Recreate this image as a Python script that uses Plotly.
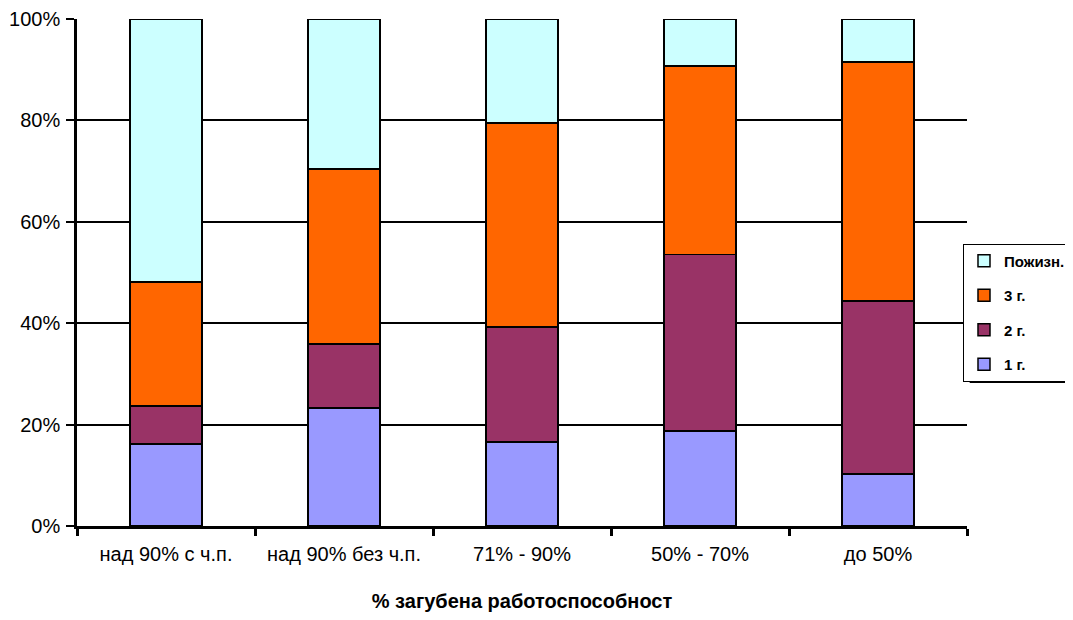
import plotly.graph_objects as go

categories = ["над 90% с ч.п.", "над 90% без ч.п.", "71% - 90%", "50% - 70%", "до 50%"]
series_names = ["1 г.", "2 г.", "3 г.", "Пожизн."]
v_1g = [16.2, 23.3, 16.6, 18.7, 10.3]
v_2g = [7.5, 12.6, 22.7, 34.9, 34.1]
v_3g = [24.4, 34.5, 40.2, 37.1, 47.1]
v_life = [51.9, 29.6, 20.5, 9.3, 8.5]
colors = ["#9999FF", "#993366", "#FF6600", "#CCFFFF"]
y_ticks = [0, 20, 40, 60, 80, 100]
y_ticktext = ["0%", "20%", "40%", "60%", "80%", "100%"]

W, H = 1065, 604  # page body has an 8px margin

fig = go.Figure()
for i, (name, vals) in enumerate(zip(series_names, [v_1g, v_2g, v_3g, v_life])):
    fig.add_trace(go.Bar(
        x=categories, y=vals, name="<b>" + name + "</b>", legendgroup=name,
        legendrank=10 - i,
        marker=dict(color=colors[i], line=dict(color="black", width=1.5)),
        width=0.405,
    ))

fig.update_layout(
    barmode="stack",
    width=W, height=H,
    margin=dict(l=69, r=W - 959, t=11, b=86, autoexpand=False),
    plot_bgcolor="white", paper_bgcolor="white",
    font=dict(family="Liberation Sans, Arial", size=20, color="black"),
    legend=dict(
        x=0.9955, y=0.557, xanchor="left", yanchor="top",
        traceorder="grouped", tracegroupgap=12,
        bordercolor="black", borderwidth=1, bgcolor="white",
        font=dict(size=15, family="Liberation Sans, Arial", color="black"),
        itemwidth=30,
    ),
    showlegend=True,
    shapes=[dict(type="line", xref="paper", yref="paper",
                 x0=1.003, x1=1.3, y0=0.285, y1=0.285,
                 line=dict(color="black", width=3))],
)
fig.update_xaxes(
    showline=True, linecolor="black", linewidth=2.5,
    ticks="outside", tickson="boundaries", ticklen=7, tickwidth=2.5, tickcolor="black",
    ticklabelstandoff=8,
    title=dict(text="<b>% загубена работоспособност</b>", standoff=37, font=dict(size=20)),
    tickfont=dict(size=20), automargin=False,
)
fig.update_yaxes(
    range=[0, 100], tickvals=y_ticks, ticktext=y_ticktext,
    showline=True, linecolor="black", linewidth=2.5,
    showgrid=True, gridcolor="black", gridwidth=2,
    ticks="outside", ticklen=8, tickwidth=2, tickcolor="black",
    ticklabelstandoff=2,
    zeroline=False, tickfont=dict(size=20), automargin=False,
)
fig.write_html("out.html")
